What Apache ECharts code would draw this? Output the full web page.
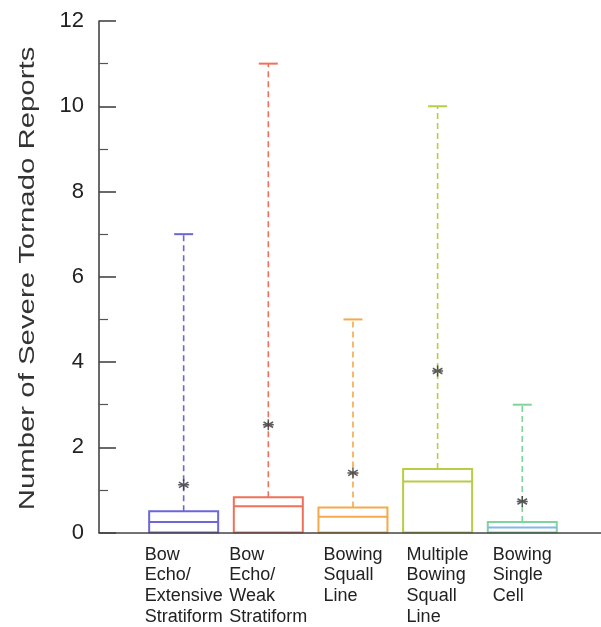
<!DOCTYPE html>
<html>
<head>
<meta charset="utf-8">
<script src="https://cdn.jsdelivr.net/npm/echarts@6/dist/echarts.min.js"></script>
<style>
  html, body { margin: 0; padding: 0; background: #ffffff; }
  #chart { width: 601px; height: 627px; }
</style>
</head>
<body>
<div id="chart"></div>
<script>
// Storm-mode categories (one box per mode)
const categories = [
  'Bow\nEcho/\nExtensive\nStratiform',
  'Bow\nEcho/\nWeak\nStratiform',
  'Bowing\nSquall\nLine',
  'Multiple\nBowing\nSquall\nLine',
  'Bowing\nSingle\nCell'
];
// Box statistics: lower quartile, median, upper quartile, maximum
const lowerQuartiles = [0, 0, 0, 0, 0];
const medians = [0.25, 0.62, 0.37, 1.2, 0.12];
const upperQuartiles = [0.5, 0.83, 0.59, 1.49, 0.25];
const maxima = [7, 11, 5, 10, 3];
// Mean number of reports (asterisks)
const means = [1.12, 2.53, 1.4, 3.79, 0.73];
// Y-axis range
const yTickValues = [0, 2, 4, 6, 8, 10, 12];

// Styling
const boxColors = ['#6c66d8', '#f0705a', '#f4a94a', '#b8cc45', '#7fd49c'];
const medianColors = ['#6c66d8', '#f0705a', '#f4a94a', '#b8cc45', '#80b8e8'];
const BOX_WIDTH = 0.815;     // in x-axis units
const CAP_WIDTH = 19;        // px
const FONT = '"Liberation Sans", Arial, Helvetica, sans-serif';

const boxData = categories.map((c, i) => [
  i + 1, lowerQuartiles[i], medians[i], upperQuartiles[i], maxima[i]
]);
const meanData = means.map((m, i) => [i + 1, m]);

const chart = echarts.init(document.getElementById('chart'), null, { renderer: 'canvas' });

function renderBox(params, api) {
  const idx = params.dataIndex;
  const x = api.value(0);
  const pLow = api.coord([x, api.value(1)]);
  const pMed = api.coord([x, api.value(2)]);
  const pHigh = api.coord([x, api.value(3)]);
  const pMax = api.coord([x, api.value(4)]);
  const w = api.size([BOX_WIDTH, 0])[0];
  const col = boxColors[idx];
  return {
    type: 'group',
    children: [
      {
        type: 'line',
        shape: { x1: pHigh[0], y1: pHigh[1], x2: pMax[0], y2: pMax[1] },
        style: { stroke: col, lineWidth: 1.6, lineDash: [6, 4] }
      },
      {
        type: 'line',
        shape: { x1: pMax[0] - CAP_WIDTH / 2, y1: pMax[1], x2: pMax[0] + CAP_WIDTH / 2, y2: pMax[1] },
        style: { stroke: col, lineWidth: 2 }
      },
      {
        type: 'rect',
        shape: { x: pLow[0] - w / 2, y: pHigh[1], width: w, height: pLow[1] - pHigh[1] },
        style: { stroke: col, fill: 'none', lineWidth: 2 }
      },
      {
        type: 'line',
        shape: { x1: pMed[0] - w / 2, y1: pMed[1], x2: pMed[0] + w / 2, y2: pMed[1] },
        style: { stroke: medianColors[idx], lineWidth: 2 }
      }
    ]
  };
}

const option = {
  animation: false,
  backgroundColor: '#ffffff',
  textStyle: { fontFamily: FONT },
  grid: { left: 99, right: 0, top: 21, bottom: 94, containLabel: false },
  xAxis: {
    type: 'value',
    min: 0,
    max: 5.93,
    interval: 1,
    z: 5,
    axisLine: { show: true, lineStyle: { color: '#444', width: 1.6 } },
    axisTick: { show: false },
    splitLine: { show: false },
    axisLabel: {
      margin: 12,
      color: '#222',
      fontFamily: FONT,
      fontSize: 18,
      lineHeight: 20.6,
      showMaxLabel: false,
      formatter: function (v) {
        const i = Math.round(v) - 1;
        if (Math.abs(v - Math.round(v)) > 1e-6 || i < 0 || i >= categories.length) return '';
        return categories[i].split('\n').map(s => '{l|' + s + '}').join('\n');
      },
      rich: {
        l: { align: 'left', fontSize: 18, lineHeight: 20.6, color: '#222', fontFamily: FONT }
      }
    }
  },
  yAxis: {
    type: 'value',
    min: yTickValues[0],
    max: yTickValues[yTickValues.length - 1],
    interval: 2,
    z: 5,
    axisLine: { show: true, lineStyle: { color: '#444', width: 1.6 } },
    axisTick: { show: true, inside: true, length: 17, lineStyle: { color: '#444', width: 1.6 } },
    minorTick: { show: true, splitNumber: 2, length: 9, lineStyle: { color: '#555', width: 1.2 } },
    splitLine: { show: false },
    axisLabel: { margin: 15, color: '#222', fontSize: 22, fontFamily: FONT }
  },
  graphic: [
    {
      type: 'text',
      x: 28,
      y: 278.5,
      rotation: Math.PI / 2,
      scaleX: 1.335,
      style: {
        text: 'Number of Severe Tornado Reports',
        fontSize: 22,
        fontFamily: FONT,
        fill: '#333',
        textAlign: 'center',
        textVerticalAlign: 'middle'
      }
    }
  ],
  series: [
    {
      type: 'custom',
      name: 'boxes',
      z: 2,
      renderItem: renderBox,
      encode: { x: 0, y: [1, 2, 3, 4] },
      data: boxData
    },
    {
      type: 'scatter',
      name: 'mean',
      z: 3,
      symbol: 'path://M5 0L5 10M0.67 2.5L9.33 7.5M0.67 7.5L9.33 2.5M0 5L10 5',
      symbolSize: 11,
      itemStyle: { color: 'none', borderColor: '#333', borderWidth: 1.5 },
      data: meanData
    }
  ]
};

chart.setOption(option);
</script>
</body>
</html>
